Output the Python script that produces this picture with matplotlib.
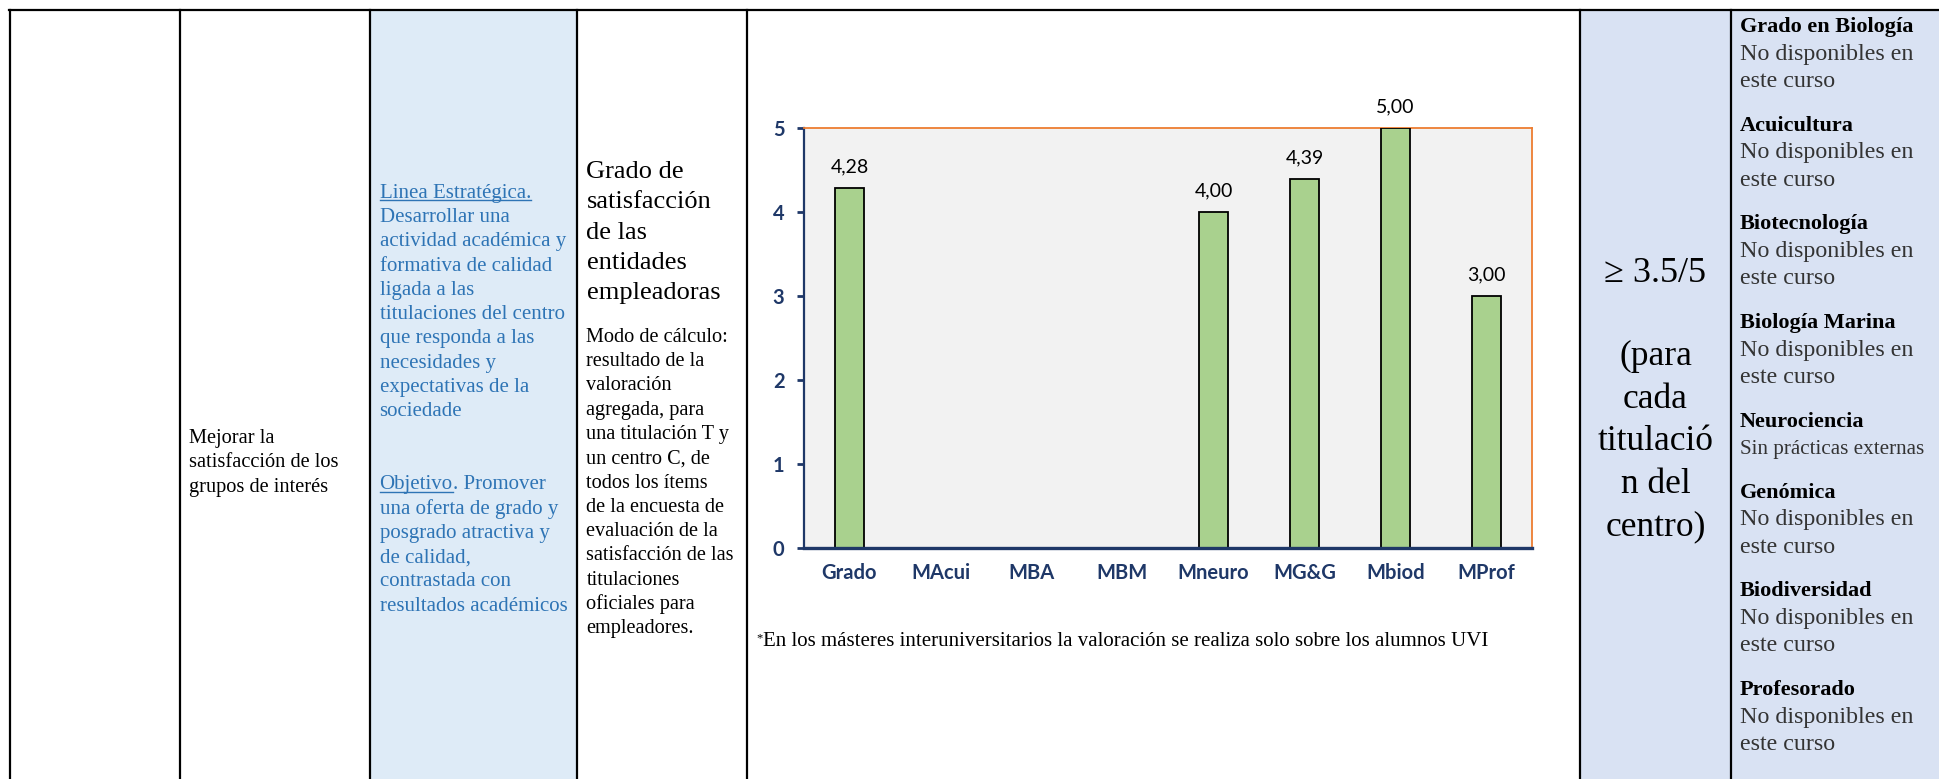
import numpy as np
import matplotlib
matplotlib.use("Agg")
import matplotlib.pyplot as plt
from matplotlib.lines import Line2D
from matplotlib.patches import Rectangle

# ---------------- data ----------------
categories = ['Grado', 'MAcui', 'MBA', 'MBM', 'Mneuro', 'MG&G', 'Mbiod', 'MProf']
values = [4.28, np.nan, np.nan, np.nan, 4.00, 4.39, 5.00, 3.00]
yticks = [0, 1, 2, 3, 4, 5]

col2_lines = ['Mejorar la', 'satisfacción de los', 'grupos de interés']
linea_title = 'Linea Estratégica.'
linea_lines = ['Desarrollar una', 'actividad académica y', 'formativa de calidad',
               'ligada a las', 'titulaciones del centro', 'que responda a las',
               'necesidades y', 'expectativas de la', 'sociedade']
objetivo_title = 'Objetivo'
objetivo_first_rest = '. Promover'
objetivo_lines = ['una oferta de grado y', 'posgrado atractiva y', 'de calidad,',
                  'contrastada con', 'resultados académicos']
indicator_title = ['Grado de', 'satisfacción', 'de las', 'entidades', 'empleadoras']
indicator_body = ['Modo de cálculo:', 'resultado de la', 'valoración', 'agregada, para',
                  'una titulación T y', 'un centro C, de', 'todos los ítems',
                  'de la encuesta de', 'evaluación de la', 'satisfacción de las',
                  'titulaciones', 'oficiales para', 'empleadores.']
footnote = 'En los másteres interuniversitarios la valoración se realiza solo sobre los alumnos UVI'
target_main = '≥ 3.5/5'
target_lines = ['(para', 'cada', 'titulació', 'n del', 'centro)']
programs = ['Grado en Biología', 'Acuicultura', 'Biotecnología', 'Biología Marina',
            'Neurociencia', 'Genómica', 'Biodiversidad', 'Profesorado']
statuses = [['No disponibles en', 'este curso'], ['No disponibles en', 'este curso'],
            ['No disponibles en', 'este curso'], ['No disponibles en', 'este curso'],
            ['Sin prácticas externas'], ['No disponibles en', 'este curso'],
            ['No disponibles en', 'este curso'], ['No disponibles en', 'este curso']]

# ---------------- figure ----------------
W, H = 1939, 779
fig = plt.figure(figsize=(W / 100, H / 100), dpi=100)
fig.patch.set_facecolor('white')

SERIF = ['Liberation Serif', 'DejaVu Serif']
SANS = ['Lato', 'DejaVu Sans']
BLUE = '#2E74B5'
NAVY = '#1F3868'


def fx(x):
    return x / W


def fy(y):
    return 1 - y / H


def txt(x, y, s, **kw):
    kw.setdefault('family', SERIF)
    kw.setdefault('va', 'baseline')
    return fig.text(fx(x), fy(y), s, transform=fig.transFigure, **kw)


# backgrounds
for (x0, x1, c) in [(370, 577, '#DEEBF7'), (1580, 1731, '#D9E2F3'), (1731, 1939, '#D9E2F3')]:
    fig.patches.append(Rectangle((fx(x0), 0), fx(x1) - fx(x0), fy(10), transform=fig.transFigure,
                                 facecolor=c, edgecolor='none', zorder=0))

# table lines
for xv in [9.5, 180, 370, 577, 746.5, 1580, 1731]:
    fig.add_artist(Line2D([fx(xv), fx(xv)], [0, fy(10)], color='black', lw=1.6,
                          transform=fig.transFigure, zorder=5))
fig.add_artist(Line2D([fx(8.5), 1], [fy(10), fy(10)], color='black', lw=1.6,
                      transform=fig.transFigure, zorder=5))

# ---------------- chart ----------------
ax = fig.add_axes([fx(804), fy(547.7), fx(1532) - fx(804), fy(127.7) - fy(547.7)])
ax.set_facecolor('#F2F2F2')
x = np.arange(len(categories))
vals = np.array(values, dtype=float)
mask = ~np.isnan(vals)
bars = ax.bar(x[mask], vals[mask], width=0.32, color='#A9D18E', edgecolor='black',
              linewidth=1.3, zorder=3)
for xi, v in zip(x[mask], vals[mask]):
    ax.annotate(f'{v:.2f}'.replace('.', ','), (xi, v), xytext=(0, 9),
                textcoords='offset points', ha='center', va='bottom',
                fontsize=14, family=SANS, color='black', annotation_clip=False)
ax.set_xlim(-0.5, len(categories) - 0.5)
ax.set_ylim(0, 5)
ax.set_yticks(yticks)
ax.set_yticklabels([str(t) for t in yticks])
ax.set_xticks(x)
ax.set_xticklabels(categories)
for lab in ax.get_xticklabels() + ax.get_yticklabels():
    lab.set_family(SANS)
    lab.set_fontweight('bold')
    lab.set_fontsize(14.5)
    lab.set_color(NAVY)
ax.tick_params(axis='x', length=0, pad=11)
ax.tick_params(axis='y', length=5, width=2, color=NAVY, pad=9, direction='out')
ax.spines['left'].set_color(NAVY)
ax.spines['left'].set_linewidth(1.6)
ax.spines['bottom'].set_color(NAVY)
ax.spines['bottom'].set_linewidth(2.4)
ax.spines['bottom'].set_zorder(4)
ax.spines['top'].set_color('#ED7D31')
ax.spines['top'].set_linewidth(1.3)
ax.spines['right'].set_color('#ED7D31')
ax.spines['right'].set_linewidth(1.3)

# ---------------- texts ----------------
# column 2
for i, s in enumerate(col2_lines):
    txt(189, 443 + 24.3 * i, s, fontsize=14.7, color='black')

# column 3 (blue)
renderer = fig.canvas.get_renderer()


def underline(t, ybase):
    bb = t.get_window_extent(renderer)
    fig.add_artist(Line2D([bb.x0 / W, bb.x1 / W], [fy(ybase + 2.5), fy(ybase + 2.5)],
                          color=BLUE, lw=1.0, transform=fig.transFigure))
    return bb


y0 = 197.7
step = 24.3
t = txt(379.5, y0, linea_title, fontsize=15, color=BLUE)
underline(t, y0)
for i, s in enumerate(linea_lines):
    txt(379.5, y0 + step * (i + 1), s, fontsize=15, color=BLUE)
yo = y0 + step * 12
t = txt(379.5, yo, objetivo_title, fontsize=15, color=BLUE)
bb = underline(t, yo)
fig.text(bb.x1 / W, fy(yo), objetivo_first_rest, transform=fig.transFigure, fontsize=15,
         color=BLUE, family=SERIF, va='baseline')
for i, s in enumerate(objetivo_lines):
    txt(379.5, yo + step * (i + 1), s, fontsize=15, color=BLUE)

# column 4
for i, s in enumerate(indicator_title):
    txt(586.5, 178 + 30.3 * i, s, fontsize=19, color='black')
for i, s in enumerate(indicator_body):
    txt(586.5, 341.7 + 24.3 * i, s, fontsize=14.6, color='black')

# footnote
txt(756, 641, '*', fontsize=9, color='black')
txt(763, 646, footnote, fontsize=15, color='black')

# target column
txt(1655.5, 281.7, target_main, fontsize=26, color='black', ha='center')
for i, s in enumerate(target_lines):
    txt(1655.5, 365 + 42.6 * i, s, fontsize=25.5, color='black', ha='center')

# right column
yy = 32.3
for prog, st in zip(programs, statuses):
    txt(1740, yy, prog, fontsize=16, fontweight='bold', color='black')
    for j, s in enumerate(st):
        fs = 17.3 if len(s) < 20 else 15.2
        txt(1740, yy + 27.5 * (j + 1), s, fontsize=fs, color='#333333')
    yy = yy + 27.5 * len(st) + 43.6

fig.savefig('out.png', dpi=100)
